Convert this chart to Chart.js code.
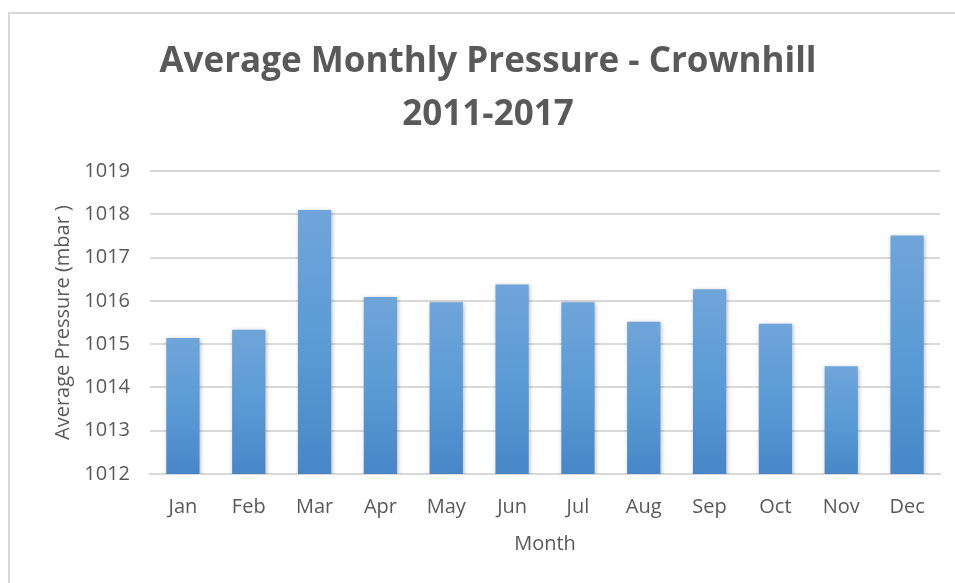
<!DOCTYPE html>
<html>
<head>
<meta charset="utf-8">
<script src="https://cdn.jsdelivr.net/npm/chart.js@4"></script>
<style>
  html, body { margin: 0; padding: 0; background: #fff; overflow: hidden; width: 955px; height: 583px; }
  .frame { position: absolute; left: 8px; top: 12px; width: 960px; height: 600px;
           border-left: 2px solid #d9d9d9; border-top: 2px solid #d9d9d9; box-sizing: border-box; }
  #wrap { position: absolute; left: 8px; top: 12px; width: 960px; height: 571px; }
</style>
</head>
<body>
<div class="frame"></div>
<div id="wrap"><canvas id="grafico-pressao" width="960" height="571"></canvas></div>
<script>
const meses = ['Jan', 'Feb', 'Mar', 'Apr', 'May', 'Jun', 'Jul', 'Aug', 'Sep', 'Oct', 'Nov', 'Dec'];
const pressao = [1015.14, 1015.33, 1018.1, 1016.09, 1015.97, 1016.38, 1015.97, 1015.52, 1016.27, 1015.47, 1014.49, 1017.51];
const titulo = ['Average Monthly Pressure - Crownhill', '2011-2017'];
const yMin = 1012;
const yMax = 1019;

const cinza = '#595959';
const grade = '#d9d9d9';

// degrade por barra, claro em cima e escuro em baixo
function corBarra(context) {
  const chart = context.chart;
  const area = chart.chartArea;
  if (!area || !context.parsed) return '#5b9bd5';
  const topo = chart.scales.y.getPixelForValue(context.parsed.y);
  const g = chart.ctx.createLinearGradient(0, topo, 0, area.bottom);
  g.addColorStop(0, '#6fa5da');
  g.addColorStop(0.5, '#5b9bd5');
  g.addColorStop(1, '#4787c8');
  return g;
}

const sombra = {
  id: 'sombra',
  beforeDatasetsDraw(chart) {
    const c = chart.ctx;
    c.save();
    c.shadowColor = 'rgba(0,0,0,0.28)';
    c.shadowBlur = 4;
    c.shadowOffsetX = 1;
    c.shadowOffsetY = 1;
  },
  afterDatasetsDraw(chart) {
    chart.ctx.restore();
  }
};

const ctx = document.getElementById('grafico-pressao');
new Chart(ctx, {
  type: 'bar',
  data: {
    labels: meses,
    datasets: [{
      label: 'Average Pressure',
      data: pressao,
      backgroundColor: corBarra,
      borderWidth: 0,
      categoryPercentage: 1,
      barPercentage: 0.505
    }]
  },
  plugins: [sombra],
  options: {
    responsive: false,
    animation: false,
    layout: { padding: { left: 28, right: 28, top: 0, bottom: 0 } },
    plugins: {
      legend: { display: false },
      tooltip: { enabled: false },
      title: {
        display: true,
        text: titulo,
        color: cinza,
        font: { family: 'Open Sans', size: 35, weight: 'bold', lineHeight: 1.5 },
        padding: { top: 24, bottom: 30 }
      }
    },
    scales: {
      x: {
        grid: { display: false, drawTicks: false },
        border: { display: true, color: grade, width: 2 },
        ticks: { color: cinza, font: { family: 'Open Sans', size: 20 }, padding: 21 },
        title: {
          display: true, text: 'Month', color: cinza,
          font: { family: 'Open Sans', size: 20, lineHeight: 1.2 },
          padding: { top: 10, bottom: 27 }
        },
        afterFit(scale) { scale.height = 109; }
      },
      y: {
        min: yMin,
        max: yMax,
        grid: { color: grade, lineWidth: 2, drawTicks: false },
        border: { display: false },
        ticks: {
          stepSize: 1, color: cinza, font: { family: 'Open Sans', size: 20 }, padding: 20,
          callback: function (v) { return String(v); }
        },
        title: {
          display: true, text: 'Average Pressure (mbar )', color: cinza,
          font: { family: 'Open Sans', size: 20, lineHeight: 1.2 },
          padding: { top: 15, bottom: 0 }
        },
        afterFit(scale) { scale.width = 114; }
      }
    }
  }
});
</script>
</body>
</html>
